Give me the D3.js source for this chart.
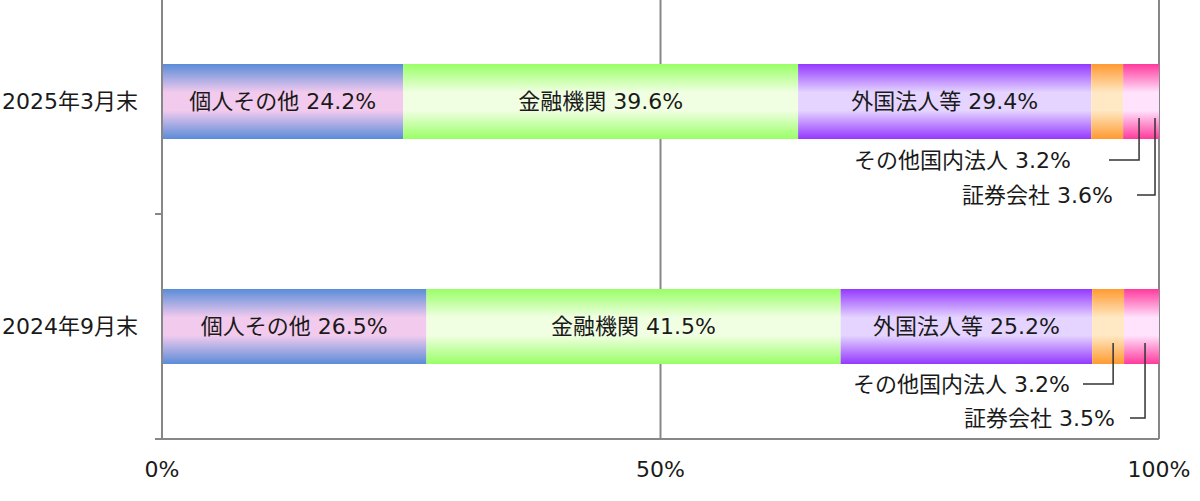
<!DOCTYPE html>
<html><head><meta charset="utf-8">
<script src="https://cdn.jsdelivr.net/npm/d3@7"></script>
<style>
html,body{margin:0;padding:0;background:#fff;}
svg{display:block;font-family:"DejaVu Sans","Noto Sans CJK JP",sans-serif;}
</style></head>
<body><svg id="c" width="1200" height="501"></svg>
<script>
const categories = ["2025年3月末", "2024年9月末"];
const seriesNames = ["個人その他", "金融機関", "外国法人等", "その他国内法人", "証券会社"];
const values2025 = [24.2, 39.6, 29.4, 3.2, 3.6];
const values2024 = [26.5, 41.5, 25.2, 3.2, 3.5];
const tickValues = [0, 0.5, 1];
const tickLabels = ["0%", "50%", "100%"];
const insideSeries = [0, 1, 2];   // labels drawn inside bar
const outsideSeries = [3, 4];     // labels drawn below with leader lines

const edgeColors = ["#5a8cd8", "#99ff66", "#9438ff", "#ff9a30", "#ff3a9c"];
const midColors  = ["#f2caee", "#f0ffe2", "#e4d4ff", "#ffe8c4", "#ffe2fc"];

(function () {
const svg = d3.select("#c");
const mLeft = 162, mRight = 1159, mTop = -11, mBottom = 439;
const gray = "#878787";
const fs = 22;

const rows = categories.map((c, i) => {
  const o = {cat: c};
  const vals = i === 0 ? values2025 : values2024;
  seriesNames.forEach((s, j) => o[s] = vals[j]);
  return o;
});
const stack = d3.stack().keys(seriesNames).offset(d3.stackOffsetExpand);
const stacked = stack(rows);

const x = d3.scaleLinear().domain([0, 1]).range([mLeft, mRight]);
const y = d3.scaleBand().domain(categories).range([mTop, mBottom]).paddingInner(2/3).paddingOuter(1/3);
const step = y.step();

// gradients
const defs = svg.append("defs");
seriesNames.forEach((s, j) => {
  const g = defs.append("linearGradient").attr("id", "g" + j)
    .attr("x1", 0).attr("y1", 0).attr("x2", 0).attr("y2", 1);
  g.append("stop").attr("offset", "0%").attr("stop-color", edgeColors[j]);
  g.append("stop").attr("offset", "38%").attr("stop-color", midColors[j]);
  g.append("stop").attr("offset", "62%").attr("stop-color", midColors[j]);
  g.append("stop").attr("offset", "100%").attr("stop-color", edgeColors[j]);
});

// gridlines
svg.append("g").selectAll("line").data(tickValues.slice(1)).join("line")
  .attr("x1", d => x(d)).attr("x2", d => x(d))
  .attr("y1", 0).attr("y2", mBottom)
  .attr("stroke", gray).attr("stroke-width", 2);

// bars
stacked.forEach((layer, j) => {
  svg.append("g").selectAll("rect").data(layer).join("rect")
    .attr("x", d => x(d[0]))
    .attr("width", d => x(d[1]) - x(d[0]))
    .attr("y", d => y(d.data.cat))
    .attr("height", y.bandwidth())
    .attr("fill", `url(#g${j})`);
});

// inside labels
insideSeries.forEach(j => {
  svg.append("g").selectAll("text").data(stacked[j]).join("text")
    .attr("x", d => (x(d[0]) + x(d[1])) / 2)
    .attr("y", d => y(d.data.cat) + y.bandwidth() / 2)
    .attr("text-anchor", "middle").attr("dominant-baseline", "central")
    .attr("font-size", fs).attr("fill", "#1a1a1a")
    .text(d => `${seriesNames[j]} ${d.data[seriesNames[j]].toFixed(1)}%`);
});

// outside labels with leader lines
const outsideLayout = [
  [{lx: 1071, ax: 0.980, dy: 21, hx: 1109}, {lx: 1113, ax: 0.996, dy: 56, hx: 1137}],
  [{lx: 1070, ax: 0.954, dy: 20, hx: 1083}, {lx: 1115, ax: 0.986, dy: 54, hx: 1130}]
];
categories.forEach((c, ci) => {
  const barBottom = y(c) + y.bandwidth();
  outsideSeries.forEach((j, k) => {
    const L = outsideLayout[ci][k];
    const v = (ci === 0 ? values2025 : values2024)[j];
    const ty = barBottom + L.dy;
    svg.append("text").attr("x", L.lx).attr("y", ty)
      .attr("text-anchor", "end").attr("dominant-baseline", "central")
      .attr("font-size", fs).attr("fill", "#1a1a1a")
      .text(`${seriesNames[j]} ${v.toFixed(1)}%`);
    const ax = x(L.ax);
    svg.append("polyline")
      .attr("points", `${L.hx},${ty} ${ax},${ty} ${ax},${barBottom - 21}`)
      .attr("fill", "none").attr("stroke", "#333").attr("stroke-width", 1.5);
  });
});

// left axis
svg.append("line").attr("x1", mLeft).attr("x2", mLeft).attr("y1", 0).attr("y2", mBottom)
  .attr("stroke", gray).attr("stroke-width", 2);
// category boundary ticks
svg.append("g").selectAll("line").data(categories).join("line")
  .attr("x1", mLeft - 7).attr("x2", mLeft)
  .attr("y1", d => y(d) - y.paddingOuter() * step + step)
  .attr("y2", d => y(d) - y.paddingOuter() * step + step)
  .attr("stroke", gray).attr("stroke-width", 2);
// bottom axis
svg.append("line").attr("x1", mLeft - 7).attr("x2", mRight).attr("y1", mBottom).attr("y2", mBottom)
  .attr("stroke", gray).attr("stroke-width", 2);

// category labels
svg.append("g").selectAll("text").data(categories).join("text")
  .attr("x", 138).attr("y", d => y(d) + y.bandwidth() / 2)
  .attr("text-anchor", "end").attr("dominant-baseline", "central")
  .attr("font-size", fs).attr("fill", "#1a1a1a").text(d => d);

// x tick labels
svg.append("g").selectAll("text").data(tickValues).join("text")
  .attr("x", d => x(d)).attr("y", 469)
  .attr("text-anchor", "middle").attr("dominant-baseline", "central")
  .attr("font-size", fs).attr("fill", "#1a1a1a")
  .text((d, i) => tickLabels[i]);
})();
</script></body></html>
